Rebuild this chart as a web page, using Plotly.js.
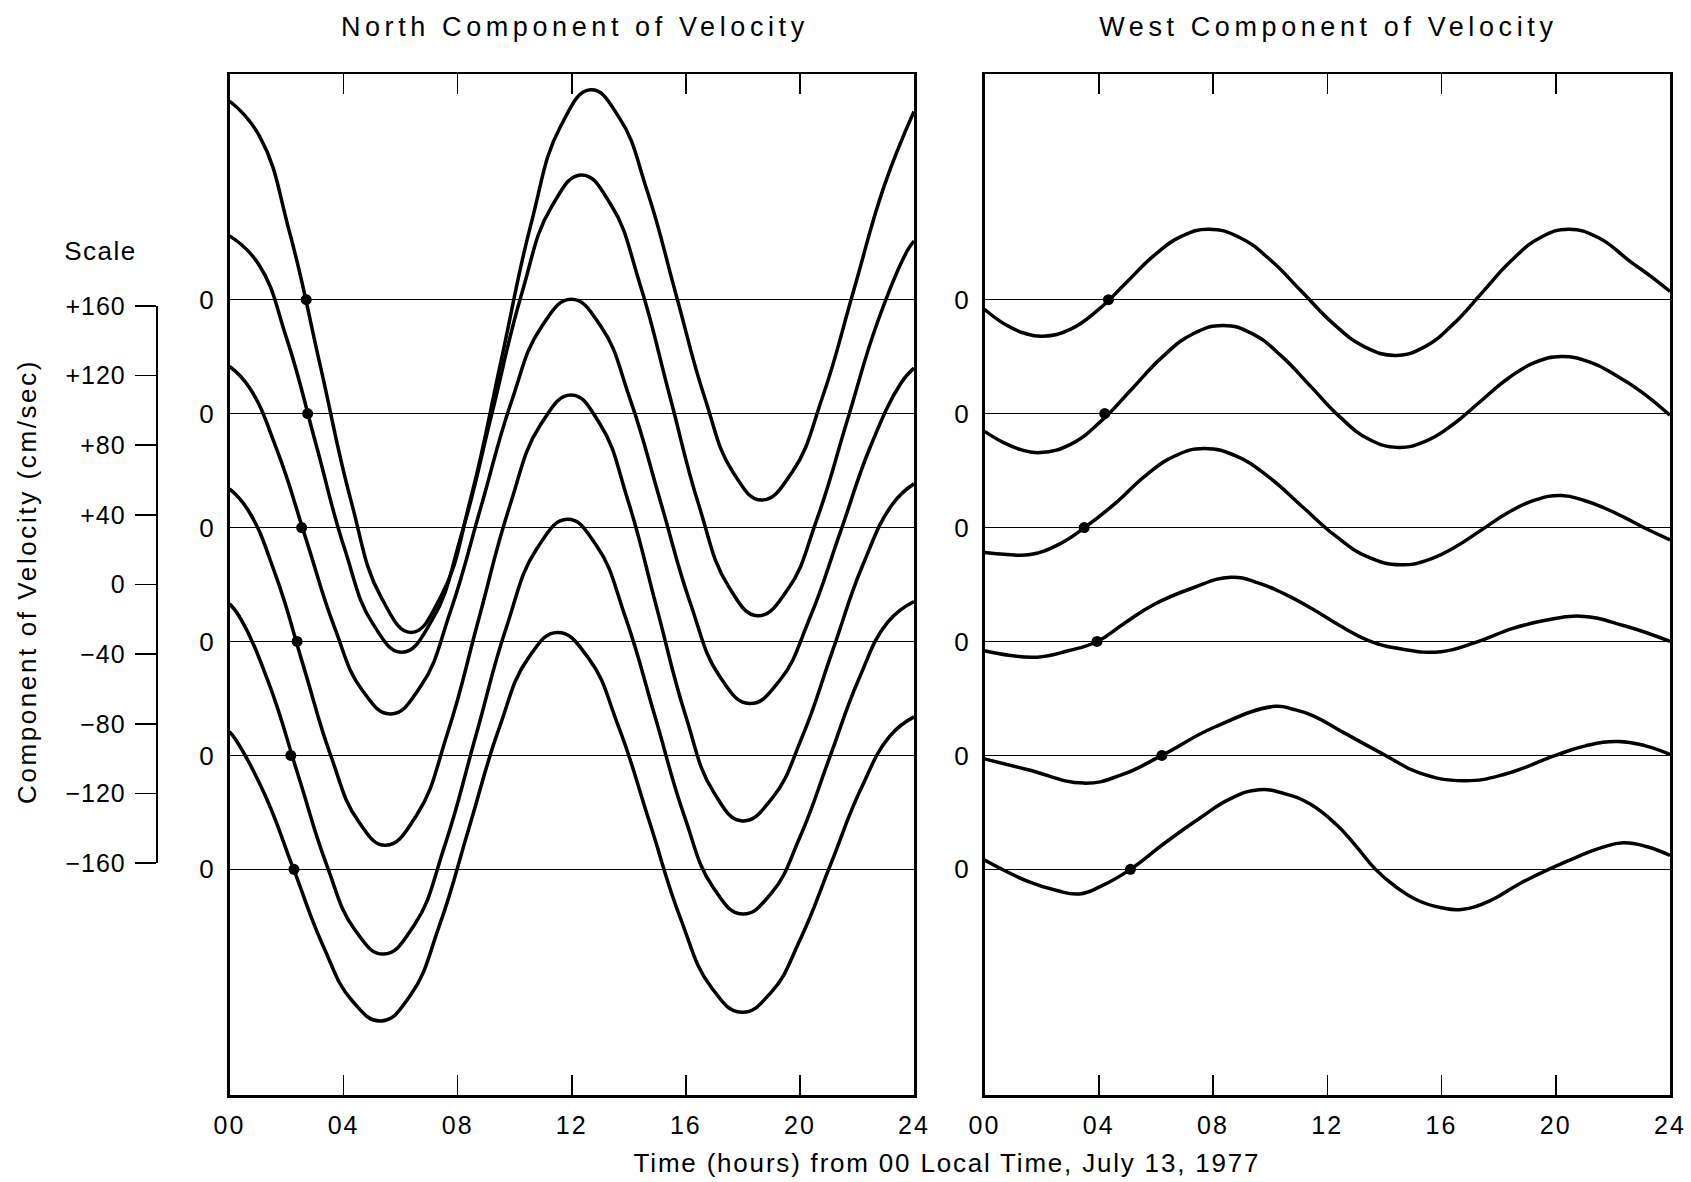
<!DOCTYPE html>
<html>
<head>
<meta charset="utf-8">
<script src="https://cdn.plot.ly/plotly-3.0.1.min.js"></script>
<style>html,body{margin:0;padding:0;background:#fff;}</style>
</head>
<body>
<div id="chart" style="width:1691px;height:1182px;"></div>
<script>
// ---------- tick labels ----------
const hourTicks = [0, 4, 8, 12, 16, 20, 24];
const hourLabels = ['00', '04', '08', '12', '16', '20', '24'];
const scaleVals = [160, 120, 80, 40, 0, -40, -80, -120, -160];
const scaleLabels = ['+160', '+120', '+80', '+40', '0', '\u221240', '\u221280', '\u2212120', '\u2212160'];
const zeroLabels = ['0', '0', '0', '0', '0', '0'];

// ---------- North component of velocity (cm/sec, relative to each record's own zero) ----------
const n1Hours = [0, 1.06, 2.12, 3.19, 4.25, 5.31, 6.37, 7.42, 8.47, 9.52, 10.56, 11.61, 12.66, 13.66, 14.66, 15.66, 16.66, 17.66, 18.66, 19.73, 20.81, 21.88, 22.95, 24];
const n1Vel   = [114, 93.6, 37.8, -38.5, -114.8, -170.6, -191, -170.1, -113.2, -35.3, 42.6, 99.5, 120.4, 104.6, 61.6, 2.7, -56.2, -99.2, -115, -98.9, -55, 5, 65, 108];
const n2Hours = [0, 1.01, 2.02, 3.03, 4.03, 5.04, 6.05, 7.10, 8.15, 9.20, 10.24, 11.29, 12.34, 13.37, 14.40, 15.43, 16.46, 17.49, 18.52, 19.57, 20.61, 21.66, 22.71, 23.75, 24];
const n2Vel   = [102, 86, 42.3, -17.5, -77.3, -121, -137, -118.6, -68.5, 0, 68.5, 118.6, 137, 120, 73.8, 10.5, -52.8, -99, -116, -101, -60, -4, 52, 93, 99];
const n3Hours = [0, 0.69, 1.68, 2.68, 3.67, 4.66, 5.65, 6.71, 7.76, 8.82, 9.87, 10.93, 11.98, 13.02, 14.06, 15.11, 16.15, 17.19, 18.23, 19.29, 20.35, 21.42, 22.48, 23.54, 24];
const n3Vel   = [92.5, 80.5, 43.8, -6.5, -56.8, -93.5, -107, -91, -47.5, 12, 71.5, 115, 131, 115.5, 73, 15, -43, -85.5, -101, -87.8, -51.8, -2.5, 46.8, 82.8, 91.5];
const n4Hours = [0, 0.66, 1.63, 2.59, 3.55, 4.52, 5.48, 6.56, 7.65, 8.73, 9.81, 10.90, 11.98, 12.98, 13.98, 14.98, 15.98, 16.98, 17.98, 19.03, 20.09, 21.14, 22.19, 23.25, 24];
const n4Vel   = [87.6, 75.2, 37.5, -14, -65.5, -103.2, -117, -99.7, -52.4, 12.3, 76.9, 124.2, 141.5, 125.1, 80.4, 19.3, -41.9, -86.6, -103, -89.9, -54.3, -5.5, 43.3, 78.9, 90.5];
const n5Hours = [0, 0.4, 1.4, 2.4, 3.4, 4.4, 5.4, 6.48, 7.55, 8.63, 9.70, 10.78, 11.85, 12.87, 13.89, 14.92, 15.94, 16.96, 17.98, 19.0, 20.02, 21.04, 22.06, 23.08, 24];
const n5Vel   = [87, 78.2, 40.5, -11, -62.5, -100.2, -114, -97.3, -51.6, 10.8, 73.1, 118.8, 135.5, 120.3, 78.9, 22.3, -34.4, -75.8, -91, -79, -46.1, -1.3, 43.6, 76.5, 88.3];
const n6Hours = [0, 0.22, 1.24, 2.26, 3.28, 4.30, 5.32, 6.35, 7.38, 8.41, 9.44, 10.47, 11.5, 12.58, 13.65, 14.73, 15.80, 16.88, 17.95, 18.99, 20.03, 21.08, 22.12, 23.16, 24];
const n6Vel   = [79, 74.4, 42.8, -0.5, -43.8, -75.4, -87, -72.1, -31.3, 24.5, 80.3, 121.1, 136, 121.4, 81.5, 27, -27.5, -67.4, -82, -70.6, -39.5, 3, 45.5, 76.6, 87.5];
const northDotHours = [2.69, 2.74, 2.53, 2.37, 2.15, 2.26];

// ---------- West component of velocity ----------
const w1Hours = [0, 0.7, 1.4, 2.05, 3.02, 3.99, 4.96, 5.92, 6.89, 7.86, 8.95, 10.04, 11.13, 12.22, 13.31, 14.4, 15.41, 16.42, 17.43, 18.44, 19.45, 20.46, 21.5, 22.6, 23.4, 24];
const w1Vel   = [-5.5, -14, -19.3, -21, -16.9, -5.7, 9.7, 25.1, 36.3, 40.4, 35.5, 22.3, 4.2, -13.9, -27.1, -32, -27.1, -13.9, 4.2, 22.3, 35.5, 40.4, 35.5, 22, 12.5, 4.7];
const w2Hours = [0, 0.65, 1.3, 1.96, 3.03, 4.09, 5.16, 6.22, 7.29, 8.35, 9.37, 10.39, 11.42, 12.44, 13.46, 14.48, 15.43, 16.39, 17.34, 18.29, 19.25, 20.2, 21.2, 22.1, 23.0, 24];
const w2Vel   = [-10.2, -16.5, -20.8, -22.4, -17.5, -4.2, 14.1, 32.4, 45.7, 50.6, 45.9, 33.1, 15.6, -1.9, -14.7, -19.4, -15.9, -6.4, 6.65, 19.7, 29.2, 32.7, 29.5, 22, 12.5, -1];
const w3Hours = [0, 0.8, 1.6, 2.62, 3.63, 4.65, 5.66, 6.68, 7.69, 8.84, 9.98, 11.13, 12.28, 13.42, 14.57, 15.51, 16.45, 17.39, 18.32, 19.26, 20.2, 21.0, 21.7, 22.4, 23.08, 24];
const w3Vel   = [-14.3, -15.5, -15.5, -9.5, 1.5, 14.9, 30.1, 41.2, 45.3, 40.8, 28.6, 11.95, -4.7, -16.9, -21.4, -18.7, -11.5, -1.5, 8.5, 15.7, 18.4, 15.5, 11.2, 5.8, 0, -7.1];
const w4Hours = [0, 0.9, 1.85, 2.9, 3.94, 4.9, 5.93, 7.24, 8.63, 9.6, 10.5, 11.5, 12.45, 13.45, 14.6, 15.98, 17.2, 18.5, 19.6, 20.88, 22.4, 24];
const w4Vel   = [-5.3, -8, -9, -5.5, 0, 10.5, 21.2, 30.4, 36.9, 33.5, 27.3, 18.5, 9, 0.5, -4.3, -5.9, -0.5, 7.5, 12, 14.5, 9, 0];
const w5Hours = [0, 1.52, 3.48, 4.79, 6.21, 8.06, 10.18, 10.8, 11.47, 12.64, 14.04, 15.2, 16.78, 18.24, 19.99, 21.04, 22.2, 23.14, 24];
const w5Vel   = [-2, -8.2, -15.9, -11.2, 0, 16.3, 28.2, 26.5, 23, 12.5, 0, -9.9, -14.5, -10.7, 0, 5.5, 8, 5.5, 0.6];
const w6Hours = [0, 1.52, 2.5, 3.32, 4.1, 5.11, 6.3, 7.57, 8.6, 9.61, 10.5, 11.4, 12.3, 13.0, 13.69, 14.4, 15.2, 16.0, 16.7, 17.7, 18.7, 19.75, 20.8, 21.6, 22.37, 23.2, 24];
const w6Vel   = [5.3, -6.9, -12, -14.1, -9.5, 0, 15, 29.8, 40.5, 45.7, 43.5, 37.5, 26, 13.5, 0, -10, -18, -22, -23, -18, -8.5, 0, 7.5, 12.5, 15.3, 13, 8];
const westDotHours = [4.34, 4.21, 3.49, 3.94, 6.21, 5.11];

// ---------- layout helpers (record stacking, not data) ----------
const levelOffsets = [163.5, 98.1, 32.7, -32.7, -98.1, -163.5];
const W = 1691, H = 1182, T = 74, B = 87;
const plotH = H - T - B;
const px = v => v / W;
const py = v => (H - B - v) / plotH;

const northHours = [n1Hours, n2Hours, n3Hours, n4Hours, n5Hours, n6Hours];
const northVel = [n1Vel, n2Vel, n3Vel, n4Vel, n5Vel, n6Vel];
const westHours = [w1Hours, w2Hours, w3Hours, w4Hours, w5Hours, w6Hours];
const westVel = [w1Vel, w2Vel, w3Vel, w4Vel, w5Vel, w6Vel];

const lineStyle = {color: '#000', width: 3.5, shape: 'spline', smoothing: 1.3};
const traces = [];
// carrier for the scale axis (drawn first, underneath)
traces.push({x: [null], y: [null], xaxis: 'x', yaxis: 'y3', mode: 'markers', hoverinfo: 'skip'});
northHours.forEach((hrs, i) => {
  traces.push({x: hrs, y: northVel[i].map(v => v + levelOffsets[i]), xaxis: 'x', yaxis: 'y',
    mode: 'lines', line: lineStyle, hoverinfo: 'skip'});
});
westHours.forEach((hrs, i) => {
  traces.push({x: hrs, y: westVel[i].map(v => v + levelOffsets[i]), xaxis: 'x2', yaxis: 'y2',
    mode: 'lines', line: lineStyle, hoverinfo: 'skip'});
});
traces.push({x: northDotHours, y: levelOffsets, xaxis: 'x', yaxis: 'y', mode: 'markers',
  marker: {color: '#000', size: 11}, hoverinfo: 'skip'});
traces.push({x: westDotHours, y: levelOffsets, xaxis: 'x2', yaxis: 'y2', mode: 'markers',
  marker: {color: '#000', size: 11}, hoverinfo: 'skip'});

const fontFam = '"Liberation Sans", Arial, Helvetica, sans-serif';
const xCommon = {
  range: [0, 24], tickvals: hourTicks, ticktext: hourLabels,
  ticks: 'inside', ticklen: 20, tickwidth: 1.5, tickcolor: '#000',
  showline: true, linewidth: 2.5, linecolor: '#000', mirror: 'ticks',
  showgrid: false, zeroline: false, fixedrange: true,
  tickfont: {size: 25, color: '#000'}, ticklabelstandoff: 6
};
const yCommon = {
  range: [-293, 293], tickvals: levelOffsets, ticktext: zeroLabels,
  ticks: '', showline: true, linewidth: 2.5, linecolor: '#000', mirror: true,
  showgrid: true, gridcolor: '#000', gridwidth: 1.5, zeroline: false, fixedrange: true,
  tickfont: {size: 26, color: '#000'}, ticklabelstandoff: 8
};

const layout = {
  width: W, height: H,
  margin: {l: 0, r: 0, t: T, b: B, pad: 0},
  paper_bgcolor: '#fff', plot_bgcolor: 'rgba(0,0,0,0)',
  showlegend: false,
  font: {family: fontFam, color: '#000'},
  xaxis: Object.assign({}, xCommon, {domain: [px(229.5), px(914)], anchor: 'y'}),
  yaxis: Object.assign({}, yCommon, {domain: [0, 1], anchor: 'x'}),
  xaxis2: Object.assign({}, xCommon, {domain: [px(984.5), px(1670)], anchor: 'y2'}),
  yaxis2: Object.assign({}, yCommon, {domain: [0, 1], anchor: 'x2'}),
  yaxis3: {
    anchor: 'free', position: px(156.7), side: 'left',
    domain: [py(863.2), py(305.8)], range: [-160, 160],
    tickvals: scaleVals, ticktext: scaleLabels,
    ticks: 'outside', ticklen: 21, tickwidth: 1.5, tickcolor: '#000',
    showline: true, linewidth: 2, linecolor: '#000',
    showgrid: false, zeroline: false, fixedrange: true,
    tickfont: {size: 25, color: '#000'}, ticklabelstandoff: 4
  },
  annotations: [
    {text: 'North Component of Velocity', xref: 'paper', yref: 'paper', x: px(575), y: py(27),
      xanchor: 'center', yanchor: 'middle', showarrow: false, font: {size: 27}},
    {text: 'West Component of Velocity', xref: 'paper', yref: 'paper', x: px(1328.6), y: py(27),
      xanchor: 'center', yanchor: 'middle', showarrow: false, font: {size: 27}},
    {text: 'Time (hours) from 00 Local Time, July 13, 1977', xref: 'paper', yref: 'paper', x: px(946.8), y: py(1162.5),
      xanchor: 'center', yanchor: 'middle', showarrow: false, font: {size: 26}},
    {text: 'Component of Velocity (cm/sec)', xref: 'paper', yref: 'paper', x: px(27), y: py(582),
      xanchor: 'center', yanchor: 'middle', showarrow: false, textangle: -90, font: {size: 26}},
    {text: 'Scale', xref: 'paper', yref: 'paper', x: px(100.3), y: py(251.3),
      xanchor: 'center', yanchor: 'middle', showarrow: false, font: {size: 26}}
  ]
};

Plotly.newPlot('chart', traces, layout, {staticPlot: true, displayModeBar: false}).then(gd => {
  const spacing = [4.6, 4.6, 1.8, 2.6, 1.5];
  gd.querySelectorAll('g.annotation').forEach(g => {
    const i = +g.getAttribute('data-index');
    const t = g.querySelector('text');
    if (t && spacing[i] !== undefined) t.style.letterSpacing = spacing[i] + 'px';
  });
  gd.querySelectorAll('.xtick text, .x2tick text').forEach(t => { t.style.letterSpacing = '2px'; });
  gd.querySelectorAll('.y3tick text').forEach(t => { t.style.letterSpacing = '1px'; });
});
</script>
</body>
</html>
